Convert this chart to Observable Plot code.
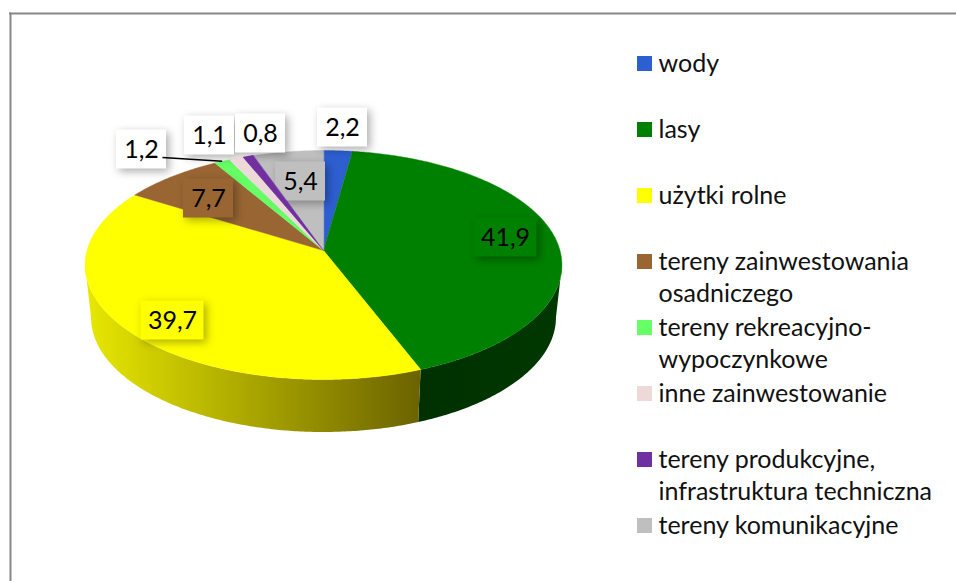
<!DOCTYPE html>
<html><head><meta charset="utf-8">
<script src="https://cdn.jsdelivr.net/npm/d3@7"></script>
<script src="https://cdn.jsdelivr.net/npm/@observablehq/plot@0.6"></script>
<style>html,body{margin:0;padding:0;background:#fff}svg{display:block}</style>
</head><body><div id="chart"></div>
<script>
const categories = ["wody","lasy","użytki rolne","tereny zainwestowania\nosadniczego","tereny rekreacyjno-\nwypoczynkowe","inne zainwestowanie","tereny produkcyjne,\ninfrastruktura techniczna","tereny komunikacyjne"];
const values = [2.2,41.9,39.7,7.7,1.2,1.1,0.8,5.4];
const sliceColors = ["#2e5fd1","#008000","#ffff00","#996633","#66ff66","#eed9d9","#7030a0","#bfbfbf"];
const sideColors = ["#2e5fd1","url(#sideGreen)","url(#sideYellow)","#996633","#66ff66","#eed9d9","#7030a0","#bfbfbf"];
// label box centre, in the chart's own coordinates
const labelCx = [342,505,172,208,141,209,260,300];
const labelCy = [127,237,320,198,149,135,133,181];
const labelFill = ["#fff","#008000","#ffff00","#996633","#fff","#fff","#fff","#bfbfbf"];

const W = 956, H = 581;
const apex = [323,250], ka = 112.66, kb = 0.1266, kc = 236.5, depth = 52.5, shrink = 0.975;
const project = (t, lower) => {
  const u = Math.sin(t), v = -Math.cos(t), s = 1/(1 - kb*v);
  return {x: apex[0] + kc*u*s*(lower ? shrink : 1), y: apex[1] + (lower ? depth : 0) + ka*v*s};
};
const total = d3.sum(values);
const slices = []; let acc = 0;
values.forEach((v,i) => { const a0 = acc/total*2*Math.PI; acc += v; slices.push({i, name: categories[i], a0, a1: acc/total*2*Math.PI}); });
const arcAngles = (a0,a1) => { const n = Math.max(2, Math.ceil((a1-a0)/0.01)); return d3.range(n+1).map(k => a0+(a1-a0)*k/n); };

const topFace = slices.flatMap(s => [{name:s.name,i:s.i,x:apex[0],y:apex[1]}, ...arcAngles(s.a0,s.a1).map(t => ({name:s.name,i:s.i,...project(t,false)}))]);
const vis0 = Math.acos(-kb), vis1 = 2*Math.PI - vis0;
const sideFace = slices.filter(s => s.a1 > vis0 && s.a0 < vis1).flatMap(s => {
  const a0 = Math.max(s.a0,vis0), a1 = Math.min(s.a1,vis1), as = arcAngles(a0,a1);
  return [...as.map(t => ({name:s.name,...project(t,false)})), ...as.slice().reverse().map(t => ({name:s.name,...project(t,true)}))];
});
const legendRow = i => 63.5 + 66*i;
const fmt = v => v.toFixed(1).replace(".",",");
const boxW = v => v >= 10 ? 63 : 50, boxH = 39;
const labels = values.map((v,i) => ({v, t: fmt(v), cx: labelCx[i], cy: labelCy[i], fill: labelFill[i]}));
const FONT = "Lato";
const leaderStart = {x:162,y:157};
const leaderEnd = project((slices[4].a0+slices[4].a1)/2,false);

const defs = () => {
  const svg = d3.create("svg:defs");
  const g = (id,x1,x2,stops) => {
    const lg = svg.append("linearGradient").attr("id",id).attr("gradientUnits","userSpaceOnUse").attr("x1",x1).attr("x2",x2).attr("y1",0).attr("y2",0);
    stops.forEach(([o,c]) => lg.append("stop").attr("offset",o).attr("stop-color",c));
  };
  g("sideYellow",84,419,[[0,"#e8e800"],[1,"#6b6300"]]);
  g("sideGreen",419,562,[[0,"#003000"],[1,"#003800"]]);
  return svg.node();
};

const chart = Plot.plot({
  width: W, height: H, margin: 0,
  x: {domain:[0,W], range:[0,W], axis:null},
  y: {domain:[0,H], range:[0,H], axis:null},
  color: {domain: categories, range: sliceColors},
  style: {background:"#fff"},
  marks: [
    defs,
    Plot.ruleX([10],{y1:12.5,y2:H,stroke:"#888",strokeWidth:2}),
    Plot.ruleY([13],{x1:9,x2:W,stroke:"#888",strokeWidth:2}),
    Plot.line(sideFace,{x:"x",y:"y",z:"name",fill:d => sideColors[categories.indexOf(d.name)],stroke:"none",curve:"linear-closed"}),
    Plot.line(topFace,{x:"x",y:"y",z:"name",fill:"name",stroke:"name",strokeWidth:0.4,curve:"linear-closed"}),
    Plot.rect(labels,{x1:d=>d.cx-boxW(d.v)/2,x2:d=>d.cx+boxW(d.v)/2,y1:d=>d.cy-boxH/2,y2:d=>d.cy+boxH/2,fill:d=>d.fill,imageFilter:"drop-shadow(3px 3px 4px rgba(0,0,0,.32))"}),
    // the narrow slices stay visible over the grey label box, as in the original
    Plot.line(topFace.filter(d => d.i === 5 || d.i === 6),{x:"x",y:"y",z:"name",fill:"name",stroke:"name",strokeWidth:0.4,curve:"linear-closed"}),
    Plot.link([0],{x1:()=>leaderStart.x,y1:()=>leaderStart.y,x2:()=>leaderEnd.x,y2:()=>leaderEnd.y,stroke:"#000",strokeWidth:1.5}),
    Plot.text(labels,{x:"cx",y:"cy",text:"t",fontFamily:FONT,fontSize:25,fill:"#000"}),
    Plot.rect(categories,{x1:()=>637,x2:()=>652,y1:(d,i)=>legendRow(i)-7.5,y2:(d,i)=>legendRow(i)+7.5,fill:d=>d}),
    Plot.text(categories,{x:()=>658,y:(d,i)=>legendRow(i)-14.5,text:d=>d,textAnchor:"start",lineAnchor:"top",lineHeight:32/25,fontFamily:FONT,fontSize:25,fill:"#111"})
  ]
});
document.getElementById("chart").append(chart);
</script></body></html>
